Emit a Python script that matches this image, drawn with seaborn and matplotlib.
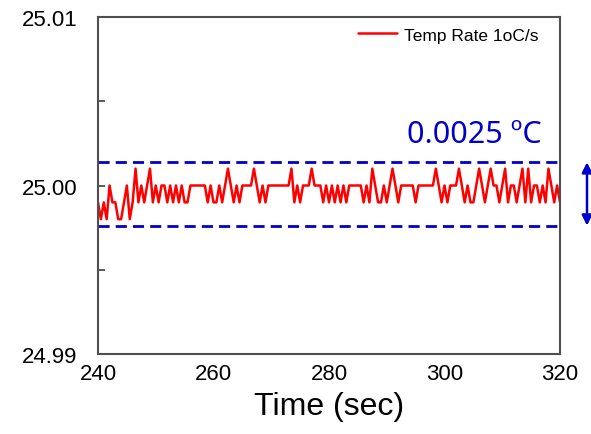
import matplotlib
matplotlib.use("Agg")
import matplotlib.pyplot as plt
import seaborn as sns
import numpy as np
import pandas as pd

# Time (sec), sampled every 0.5 s
time_sec = [240 + 0.5 * i for i in range(161)]
temperature = [
    24.999, 24.998, 24.999, 24.998, 25.000, 24.999, 24.999, 24.998, 24.998, 24.999,
    25.000, 24.998, 24.999, 25.001, 24.999, 25.000, 24.999, 25.000, 25.001, 24.999,
    25.000, 24.999, 25.000, 25.000, 24.999, 25.000, 24.999, 25.000, 24.999, 25.000,
    24.999, 24.999, 25.000, 25.000, 25.000, 25.000, 25.000, 25.000, 24.999, 25.000,
    24.999, 24.999, 25.000, 24.999, 25.000, 25.001, 25.000, 24.999, 25.000, 24.999,
    25.000, 25.000, 25.000, 25.000, 25.001, 25.000, 24.999, 25.000, 24.999, 25.000,
    25.000, 25.000, 25.000, 25.000, 25.000, 25.000, 25.000, 25.001, 24.999, 25.000,
    24.999, 25.000, 25.000, 25.000, 25.001, 25.000, 25.000, 25.000, 24.999, 25.000,
    24.999, 25.000, 24.999, 25.000, 24.999, 25.000, 24.999, 25.000, 25.000, 25.000,
    25.000, 25.000, 24.999, 25.000, 24.999, 25.001, 25.000, 24.999, 24.999, 25.000,
    24.999, 25.000, 25.001, 25.000, 24.999, 25.000, 25.000, 25.000, 25.000, 25.000,
    24.999, 25.000, 25.000, 25.000, 25.000, 25.000, 25.000, 25.001, 25.000, 24.999,
    25.000, 24.999, 25.000, 25.000, 25.000, 25.001, 25.000, 24.999, 25.000, 24.999,
    24.999, 25.000, 25.001, 25.000, 24.999, 25.000, 25.001, 25.000, 25.000, 24.999,
    25.000, 25.001, 24.999, 25.000, 25.000, 24.999, 25.000, 25.001, 24.999, 25.001,
    24.999, 25.000, 25.000, 24.999, 25.000, 24.999, 25.001, 25.000, 24.999, 25.000,
    24.999,
]
band_upper = 25.00138
band_lower = 24.99762
band_label = "0.0025 \u00baC"
series_label = "Temp Rate 1oC/s"
x_ticks = [240, 260, 280, 300, 320]
y_ticks = [24.99, 25.00, 25.01]
y_ticklabels = ["24.99", "25.00", "25.01"]

sns.set_style("white")
plt.rcParams["font.family"] = ["Liberation Sans", "DejaVu Sans"]
plt.rcParams["text.color"] = "black"
plt.rcParams["axes.labelcolor"] = "black"
plt.rcParams["xtick.color"] = "black"
plt.rcParams["ytick.color"] = "black"

df = pd.DataFrame({"Time": time_sec, "Temp": temperature})

fig = plt.figure(figsize=(5.91, 4.35), dpi=100)
ax = fig.add_axes([98 / 591, 1 - 355 / 435, (560 - 98) / 591, (355 - 18) / 435])

sns.lineplot(data=df, x="Time", y="Temp", ax=ax, color="#ff0000", lw=1.8,
             label=series_label)

blue = "#0000c8"
ax.axhline(band_upper, color=blue, lw=2, ls=(0, (4, 2.2)))
ax.axhline(band_lower, color=blue, lw=2, ls=(0, (4, 2.2)))

ax.set_xlim(240, 320)
ax.set_ylim(24.99, 25.01)
ax.set_xticks(x_ticks)
ax.set_xticklabels([str(v) for v in x_ticks])
ax.set_yticks(y_ticks)
ax.set_yticklabels(y_ticklabels)
ax.set_yticks([24.995, 25.005], minor=True)
ax.tick_params(axis="y", which="both", direction="in", left=True, labelsize=16,
               color="#404040", width=1.2, length=5, pad=15)
ax.tick_params(axis="x", which="both", bottom=False, labelsize=16, pad=3,
               labelcolor="black")
ax.tick_params(axis="y", labelcolor="black")

ax.set_xlabel("Time (sec)", fontsize=23, labelpad=5, color="black")
ax.set_ylabel("")

for sp in ax.spines.values():
    sp.set_visible(True)
    sp.set_color("#505050")
    sp.set_linewidth(1.5)

leg = ax.legend(loc="upper right", frameon=False, fontsize=12.5,
                handlelength=2.3, handletextpad=0.35, borderaxespad=0.2,
                bbox_to_anchor=(0.975, 1.0))
for t in leg.get_texts():
    t.set_color("black")

ax.text(0.96, 25.00258, band_label, color=blue, fontsize=22,
        family=["Noto Sans", "DejaVu Sans"], ha="right", va="baseline",
        transform=ax.get_yaxis_transform())

x_arrow = 240 + (587 - 98) / ((560 - 98) / 80)
ax.annotate("", xy=(x_arrow, band_upper), xytext=(x_arrow, band_lower),
            xycoords="data", textcoords="data", annotation_clip=False,
            arrowprops=dict(arrowstyle="<|-|>", color=blue, lw=1.8,
                            mutation_scale=15, shrinkA=0, shrinkB=0))

fig.savefig("out.png", dpi=100)
